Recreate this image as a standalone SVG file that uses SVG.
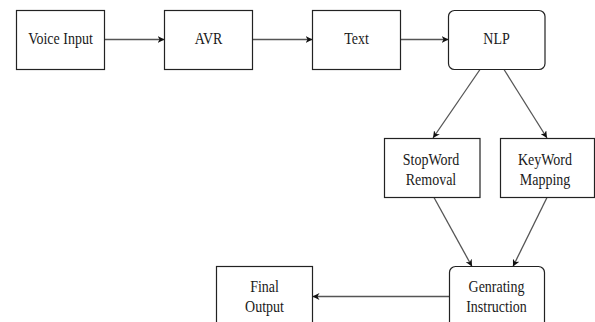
<svg xmlns="http://www.w3.org/2000/svg" width="595" height="322" viewBox="0 0 595 322">
  <defs>
    <marker id="arrow" viewBox="0 0 10 10" refX="10" refY="5" markerWidth="7" markerHeight="7" markerUnits="userSpaceOnUse" orient="auto">
      <path d="M0,0 L10,5 L0,10 L3,5 Z" fill="#111"/>
    </marker>
    <style>
      .box { fill: #fff; stroke: #222; stroke-width: 1.2; }
      .lbl { font-family: 'Liberation Serif', 'Times New Roman', serif; font-size: 14px; fill: #1a1a1a; text-anchor: middle; }
      .edge { stroke: #555; stroke-width: 1.3; fill: none; marker-end: url(#arrow); }
    </style>
  </defs>
  <rect width="595" height="322" fill="#fff"/>

  <g id="connectors">
    <line class="edge" x1="104.5" y1="39.5" x2="164.5" y2="39.5"/>
    <line class="edge" x1="252.5" y1="39.5" x2="312.5" y2="39.5"/>
    <line class="edge" x1="400.5" y1="39.5" x2="448.5" y2="39.5"/>
    <line class="edge" x1="480" y1="69.5" x2="433" y2="138"/>
    <line class="edge" x1="504" y1="69.5" x2="547" y2="138"/>
    <line class="edge" x1="434" y1="197.5" x2="472" y2="266.5"/>
    <line class="edge" x1="547" y1="197.5" x2="513" y2="266.5"/>
    <line class="edge" x1="449.5" y1="296.5" x2="312.5" y2="296.5"/>
  </g>

  <!-- labels use a tall, narrow serif: 14px wide, stretched vertically -->
  <g id="voice-input">
    <rect class="box" x="16.5" y="10.5" width="88" height="59"/>
    <text class="lbl" transform="translate(60.5,44) scale(1,1.25)">Voice Input</text>
  </g>
  <g id="avr">
    <rect class="box" x="164.5" y="10.5" width="88" height="59"/>
    <text class="lbl" transform="translate(208.5,44) scale(1,1.25)">AVR</text>
  </g>
  <g id="text">
    <rect class="box" x="312.5" y="10.5" width="88" height="59"/>
    <text class="lbl" transform="translate(356.5,44) scale(1,1.25)">Text</text>
  </g>
  <g id="nlp">
    <rect class="box" x="448.5" y="10.5" width="96.5" height="59" rx="6"/>
    <text class="lbl" transform="translate(496.5,44) scale(1,1.25)">NLP</text>
  </g>
  <g id="stopword-removal">
    <rect class="box" x="384.5" y="138.5" width="95.5" height="59"/>
    <text class="lbl" transform="translate(431,164.5) scale(1,1.2)">StopWord</text>
    <text class="lbl" transform="translate(431,184.5) scale(1,1.2)">Removal</text>
  </g>
  <g id="keyword-mapping">
    <rect class="box" x="500.5" y="138.5" width="94" height="59"/>
    <text class="lbl" transform="translate(545,164.5) scale(1,1.2)">KeyWord</text>
    <text class="lbl" transform="translate(545,184.5) scale(1,1.2)">Mapping</text>
  </g>
  <g id="generating-instruction">
    <rect class="box" x="449.5" y="266.5" width="95" height="70" rx="6"/>
    <text class="lbl" transform="translate(496.5,291.5) scale(1,1.25)">Genrating</text>
    <text class="lbl" transform="translate(496.5,312) scale(1,1.25)">Instruction</text>
  </g>
  <g id="final-output">
    <rect class="box" x="216.5" y="266.5" width="96" height="70"/>
    <text class="lbl" transform="translate(264.5,291.5) scale(1,1.25)">Final</text>
    <text class="lbl" transform="translate(264.5,312) scale(1,1.25)">Output</text>
  </g>
</svg>
